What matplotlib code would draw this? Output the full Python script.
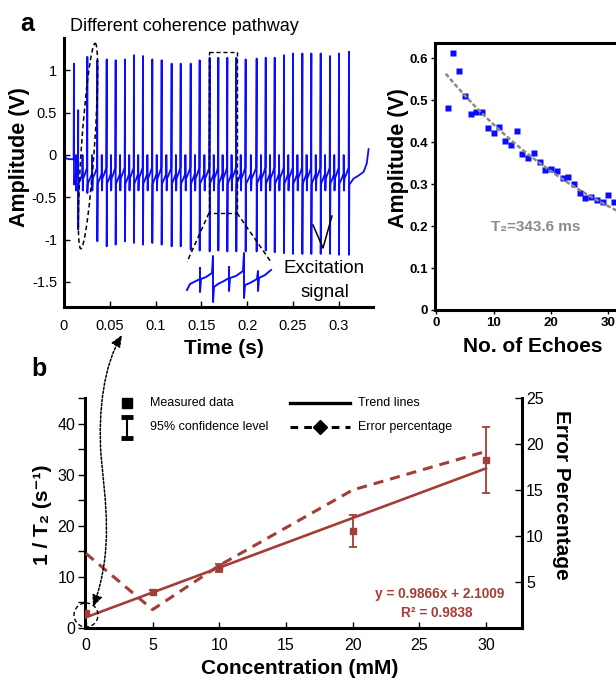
import numpy as np
import matplotlib
matplotlib.use("Agg")
import matplotlib.pyplot as plt
from matplotlib.patches import Ellipse, Circle, Rectangle, FancyArrowPatch
from matplotlib.path import Path

W, H = 616, 685
plt.rcParams["font.family"] = ["Liberation Sans", "DejaVu Sans"]
plt.rcParams["axes.unicode_minus"] = False
SANS = ["Liberation Sans", "DejaVu Sans"]

BLUE = "#0b0bff"
BROWN = "#a33d37"
GRAY = "#8a8a8a"

# ---- panel a (left): CPMG echo train -------------------------------------
pulse_t = [0.0109, 0.0155, 0.0255, 0.0364, 0.0466, 0.0564, 0.0666, 0.0764, 0.0862, 0.0964,
           0.1066, 0.1175, 0.1274, 0.1383, 0.1481, 0.1590, 0.1685, 0.1783, 0.1881, 0.1983,
           0.2103, 0.2202, 0.2300, 0.2402, 0.2500, 0.2602, 0.2700, 0.2802, 0.2904, 0.3002, 0.3111]
pulse_hi = [1.08, 0.53, 1.16, 1.12, 1.13, 1.12, 1.13, 1.18, 1.17, 1.13,
            1.12, 1.08, 1.08, 1.08, 1.12, 1.15, 1.15, 1.15, 1.15, 1.13,
            1.14, 1.15, 1.15, 1.18, 1.20, 1.20, 1.20, 1.20, 1.17, 1.20, 1.22]
pulse_lo = [-0.35, -0.88, -0.45, -1.02, -1.08, -1.06, -1.02, -1.04, -1.06, -1.04,
            -1.06, -1.08, -1.08, -1.12, -1.13, -1.14, -1.13, -1.14, -1.14, -1.14,
            -1.14, -1.13, -1.15, -1.16, -1.17, -1.17, -1.17, -1.17, -1.17, -1.18, -1.18]
# trace between two pulses (fraction of the gap, volts), echo in the middle
gap_frac = [0.04, 0.30, 0.46, 0.47, 0.50, 0.54, 0.75, 0.96]
gap_val = [-0.34, -0.27, -0.22, 0.0, -0.42, -0.28, -0.22, -0.15]
lead_t = [0.0, 0.002, 0.006, 0.0105]
lead_v = [0.03, -0.04, -0.05, -0.05]
tail_t = [0.3115, 0.316, 0.322, 0.327, 0.3305, 0.3325]
tail_v = [-0.35, -0.28, -0.24, -0.20, -0.10, 0.07]

time_ticks = [0, 0.05, 0.1, 0.15, 0.2, 0.25, 0.3]
time_labels = ["0", "0.05", "0.1", "0.15", "0.2", "0.25", "0.3"]
amp_ticks = [-1.5, -1, -0.5, 0, 0.5, 1]
amp_labels = ["-1.5", "-1", "-0.5", "0", "0.5", "1"]

# zoomed excitation signal (arbitrary units)
inset_t = [0, 3, 9, 13, 13, 13, 14, 19, 25, 26, 26, 27, 31, 37, 42, 42, 42, 43, 49, 56,
           57, 57, 58, 63, 70, 71, 71, 72, 78, 84]
inset_v = [-7, -1, 2, 4, 15, -9, 4, 6, 10, 27, -19, -4, -1, 2, 5, 16, -8, 5, 7, 12,
           30, -15, -2, 0, 4, 12, -8, 5, 8, 13]

# ---- panel a (right): echo amplitudes -------------------------------------
echo_n = list(range(2, 32))
echo_amp = [0.480, 0.613, 0.569, 0.510, 0.468, 0.472, 0.472, 0.434, 0.422, 0.437,
            0.403, 0.393, 0.427, 0.371, 0.363, 0.373, 0.353, 0.333, 0.335, 0.332,
            0.315, 0.317, 0.299, 0.278, 0.266, 0.270, 0.262, 0.258, 0.274, 0.258]
T2_MS = 343.6
TE_MS = 10.0

# ---- panel b: relaxation rate vs concentration ----------------------------
conc = [0, 5, 10, 20, 30]
inv_t2 = [2.9, 7.0, 11.8, 19.0, 32.9]
ci95 = [0.3, 0.4, 0.8, 3.2, 6.5]
err_pct = [8.1, 2.0, 6.8, 15.0, 19.2]

# ---------------------------------------------------------------------------
fig = plt.figure(figsize=(W / 100, H / 100), dpi=100)


def px_axes(l, t, r, b):
    return fig.add_axes([l / W, 1 - b / H, (r - l) / W, (b - t) / H])


def label_at(axis_obj, box, cx, cy):
    l, t, r, b = box
    axis_obj.set_label_coords((cx - l) / (r - l), (b - cy) / (b - t))
    axis_obj.label.set_horizontalalignment("center")
    axis_obj.label.set_verticalalignment("center")


# panel a left
boxA = (64, 38, 373, 307)
ax1 = px_axes(*boxA)
tr_t, tr_v = list(lead_t), list(lead_v)
for i, t in enumerate(pulse_t):
    tr_t += [t, t]
    tr_v += [pulse_hi[i], pulse_lo[i]]
    if i + 1 < len(pulse_t):
        gap = pulse_t[i + 1] - t
        tr_t += [t + f * gap for f in gap_frac]
        tr_v += gap_val
tr_t += tail_t
tr_v += tail_v
ax1.plot(tr_t, tr_v, color=BLUE, lw=1.3)
ax1.set_xlim(0, 0.3373)
ax1.set_ylim(-1.797, 1.383)
for s in ("top", "right"):
    ax1.spines[s].set_visible(False)
for s in ("left", "bottom"):
    ax1.spines[s].set_linewidth(2.2)
ax1.set_xticks(time_ticks, time_labels, fontsize=10.5)
ax1.set_yticks(amp_ticks, amp_labels, fontsize=10.5)
ax1.tick_params(direction="in", length=4, width=1)
ax1.tick_params(axis="x", pad=9)
ax1.tick_params(axis="y", pad=5)
ax1.set_xlabel("Time (s)", fontsize=15, fontweight="bold")
ax1.set_ylabel("Amplitude (V)", fontsize=15.5, fontweight="bold")
label_at(ax1.xaxis, boxA, 224, 348)
label_at(ax1.yaxis, boxA, 20, 157)

# inset with zoomed excitation
axi = px_axes(185, 250, 273, 305)
axi.plot(inset_t, inset_v, color=BLUE, lw=1.4)
axi.set_xlim(-2, 86)
axi.set_ylim(-22, 33)
axi.axis("off")

# panel a right
boxR = (435, 43, 625, 310)
ax2 = px_axes(*boxR)
ax2.plot(echo_n, echo_amp, "s", color=BLUE, ms=4.2, mec="none")
n_fit = np.linspace(1.7, 33, 120)
decay = np.exp(-np.asarray(echo_n) * TE_MS / T2_MS)
a0 = np.sum(np.asarray(echo_amp) * decay) / np.sum(decay ** 2)
ax2.plot(n_fit, a0 * np.exp(-n_fit * TE_MS / T2_MS), color=GRAY, lw=1.8, ls=(0, (1.8, 0.9)))
ax2.set_xlim(-0.175, 32.87)
ax2.set_ylim(0, 0.636)
ax2.spines["right"].set_visible(False)
for s in ("left", "bottom", "top"):
    ax2.spines[s].set_linewidth(2.2)
ax2.set_xticks([0, 10, 20, 30], ["0", "10", "20", "30"], fontsize=9.5, fontweight="bold")
ax2.set_yticks([0, 0.1, 0.2, 0.3, 0.4, 0.5, 0.6],
               ["0", "0.1", "0.2", "0.3", "0.4", "0.5", "0.6"], fontsize=9.5, fontweight="bold")
ax2.tick_params(direction="out", length=3, width=1, pad=2)
ax2.set_xlabel("No. of Echoes", fontsize=15, fontweight="bold")
ax2.set_ylabel("Amplitude (V)", fontsize=15.5, fontweight="bold")
label_at(ax2.xaxis, boxR, 533, 347)
label_at(ax2.yaxis, boxR, 398, 158)
ax2.text(0.53, 0.31, "T\u2082=343.6 ms", transform=ax2.transAxes, ha="center", va="center",
         color=GRAY, fontsize=11, fontweight="bold", family=SANS)

# panel b
boxB = (85, 398, 522, 628)
ax3 = px_axes(*boxB)
fit = np.polyfit(conc, inv_t2, 1)
x_line = np.array([conc[0], conc[-1]])
ax3.plot(x_line, np.polyval(fit, x_line), color=BROWN, lw=1.9, zorder=3)
ax3.errorbar(conc, inv_t2, yerr=ci95, fmt="s", color=BROWN, ms=4, mec=BROWN,
             elinewidth=1.3, capsize=3, capthick=1.3, zorder=4)
ax3.set_xlim(-0.07, 32.7)
ax3.set_ylim(0, 45)
ax3.spines["top"].set_visible(False)
ax3.spines["right"].set_visible(False)
for s in ("left", "bottom"):
    ax3.spines[s].set_linewidth(2.2)
ax3.set_xticks([0, 5, 10, 15, 20, 25, 30], ["0", "5", "10", "15", "20", "25", "30"],
               fontsize=11.5)
ax3.set_yticks([0, 10, 20, 30, 40], ["0", "10", "20", "30", "40"], fontsize=11.5)
ax3.set_yticks([5, 15, 25, 35, 45], minor=True)
ax3.tick_params(axis="x", direction="in", length=4, width=1, pad=7)
ax3.tick_params(axis="y", which="both", direction="out", length=5, width=1, pad=2)
ax3.set_xlabel("Concentration (mM)", fontsize=15, fontweight="bold")
ax3.set_ylabel("1 / T\u2082 (s\u207b\u00b9)", fontsize=15, fontweight="bold", family=SANS)
label_at(ax3.xaxis, boxB, 300, 668)
label_at(ax3.yaxis, boxB, 42, 515)

ax4 = ax3.twinx()
ax4.plot(conc, err_pct, color=BROWN, lw=2.2, ls=(0, (3.3, 2.3)), zorder=2)
ax4.set_ylim(0, 25)
ax4.spines["top"].set_visible(False)
ax4.spines["left"].set_visible(False)
ax4.spines["bottom"].set_visible(False)
ax4.spines["right"].set_linewidth(2.2)
ax4.set_yticks([5, 10, 15, 20, 25], ["5", "10", "15", "20", "25"], fontsize=11.5)
ax4.tick_params(axis="y", direction="in", length=5, width=1, pad=3)
ax4.set_ylabel("Error Percentage", fontsize=15, fontweight="bold", rotation=270)
label_at(ax4.yaxis, boxB, 561, 495)

# ---- annotations in pixel space -------------------------------------------
ov = fig.add_axes([0, 0, 1, 1], zorder=10)
ov.set_xlim(0, W)
ov.set_ylim(H, 0)
ov.axis("off")
ov.patch.set_alpha(0)

ov.text(27, 24, "a", fontsize=18, fontweight="bold", ha="center", va="center")
ov.text(39, 369, "b", fontsize=18, fontweight="bold", ha="center", va="center")
ov.text(70, 26, "Different coherence pathway", fontsize=13, ha="left", va="center")
ov.text(324, 268, "Excitation", fontsize=13.5, ha="center", va="center")
ov.text(325, 292, "signal", fontsize=13.5, ha="center", va="center")

ov.add_patch(Ellipse((88, 146), 13, 206, angle=4, fill=False, ls=(0, (3, 2)), lw=1.1,
                     ec="black"))
ov.add_patch(Rectangle((209, 52), 28, 161, fill=False, ls=(0, (3, 2)), lw=1.0, ec="black"))
ov.plot([209, 187], [213, 262], color="black", lw=1.1, ls=(0, (3, 2)))
ov.plot([237, 271], [213, 262], color="black", lw=1.1, ls=(0, (3, 2)))
ov.plot([313, 323, 332], [225, 248, 216], color="black", lw=1.1)

ov.add_patch(Circle((86, 615), 12, fill=False, ls=(0, (3, 2)), lw=1.0, ec="black"))
verts = [(122, 335), (104, 365), (98, 410), (101, 455), (105, 500), (114, 550), (93, 607)]
codes = [Path.MOVETO] + [Path.CURVE4] * 6
ov.add_patch(FancyArrowPatch(path=Path(verts, codes), arrowstyle="<|-|>,head_length=0.7,head_width=0.3",
                             mutation_scale=10, lw=1.1, ls=(0, (1.5, 1.2)), color="black"))

# legend of panel b
ov.plot([127], [403], "s", color="black", ms=7)
ov.text(150, 403, "Measured data", fontsize=9, va="center")
ov.plot([127, 127], [417, 438], color="black", lw=1.5)
ov.plot([121, 133], [417, 417], color="black", lw=3.5, solid_capstyle="butt")
ov.plot([121, 133], [438, 438], color="black", lw=3.5, solid_capstyle="butt")
ov.text(150, 427, "95% confidence level", fontsize=9, va="center")
ov.plot([290, 350], [403, 403], color="black", lw=2.4)
ov.text(358, 403, "Trend lines", fontsize=9, va="center")
ov.plot([290, 350], [427, 427], color="black", lw=2.2, ls=(0, (2.5, 2)))
ov.plot([320], [427], "D", color="black", ms=7)
ov.text(358, 427, "Error percentage", fontsize=9, va="center")

ov.text(440, 594, "y = 0.9866x + 2.1009", fontsize=9.8, fontweight="bold",
        color=BROWN, ha="center", va="center")
ov.text(437, 613, "R\u00b2 = 0.9838", fontsize=9.8, fontweight="bold",
        color=BROWN, ha="center", va="center")

fig.savefig("out.png", dpi=100)
